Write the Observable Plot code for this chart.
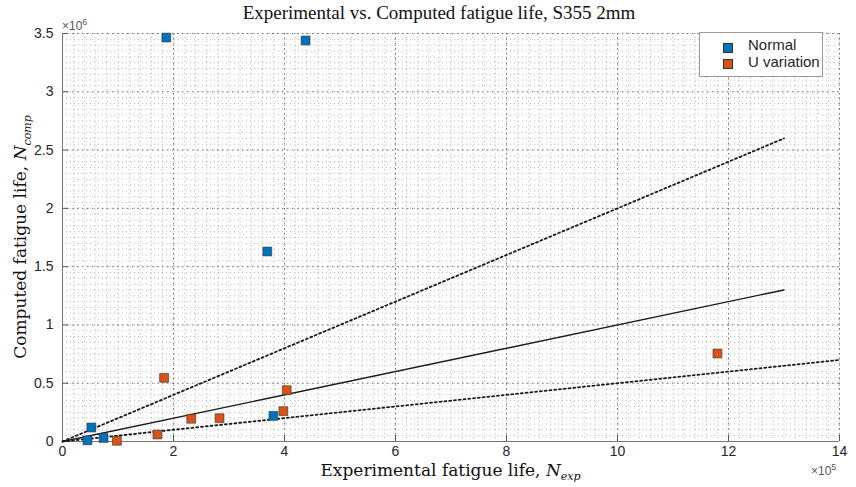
<!DOCTYPE html>
<html><head><meta charset="utf-8">
<script src="https://cdn.jsdelivr.net/npm/d3@7"></script>
<script src="https://cdn.jsdelivr.net/npm/@observablehq/plot@0.6"></script>
<style>
html,body{margin:0;padding:0;background:#fff;}
#wrap{position:relative;width:856px;height:487px;overflow:hidden;}
#wrap svg{position:absolute;left:0;top:0;}
.ov{position:absolute;white-space:nowrap;color:#262626;}
.serif{font-family:"Liberation Serif","DejaVu Serif",serif;}
.dserif{font-family:"DejaVu Serif","Liberation Serif",serif;}
.sans{font-family:"Liberation Sans",Arial,sans-serif;}
</style></head><body>
<div id="wrap"></div>
<script>
const normalX = [1.87e5, 4.38e5, 3.69e5, 3.80e5, 0.52e5, 0.45e5, 0.74e5];
const normalY = [3.465e6, 3.44e6, 1.63e6, 0.22e6, 0.12e6, 0.01e6, 0.03e6];
const uX = [1.83e5, 2.32e5, 2.83e5, 1.71e5, 0.98e5, 4.04e5, 3.98e5, 11.8e5];
const uY = [0.546e6, 0.195e6, 0.2e6, 0.06e6, 0.006e6, 0.44e6, 0.26e6, 0.755e6];
const lineSlopes = [1, 2, 0.5];
const lineXmax = [13e5, 13e5, 14e5];
const lineStyles = ["solid", "dotted", "dotted"];
const xTicks = [0,2,4,6,8,10,12,14].map(d => d*1e5);
const yTicks = [0,0.5,1,1.5,2,2.5,3,3.5].map(d => d*1e6);

const blue = "#0072BD", orange = "#D95319";
const normal = normalX.map((x,i) => ({x, y: normalY[i]}));
const uvar = uX.map((x,i) => ({x, y: uY[i]}));
const lines = lineSlopes.flatMap((s,i) => [{id:i, x:0, y:0}, {id:i, x:lineXmax[i], y:lineXmax[i]*s}]);
const xMinor = d3.range(0, 14e5 + 1, 0.2e5);
const yMinor = d3.range(0, 3.5e6 + 1, 0.05e6);

const W = 856, H = 487, mL = 62, mR = 17, mT = 33, mB = 46;
const innerW = W - mL - mR, innerH = H - mT - mB;

const plot = Plot.plot({
  width: W, height: H,
  marginLeft: mL, marginRight: mR, marginTop: mT, marginBottom: mB,
  style: {fontFamily: "Liberation Sans, Arial, sans-serif", fontSize: "14px", color: "#262626", background: "transparent"},
  x: {domain: [0, 14e5]},
  y: {domain: [0, 3.5e6]},
  marks: [
    Plot.gridX(xMinor, {stroke: "#888", strokeOpacity: 0.6, strokeDasharray: "1,3"}),
    Plot.gridY(yMinor, {stroke: "#888", strokeOpacity: 0.6, strokeDasharray: "1,3"}),
    Plot.gridX(xTicks, {stroke: "#666", strokeOpacity: 0.9, strokeDasharray: "1.5,3.5"}),
    Plot.gridY(yTicks, {stroke: "#666", strokeOpacity: 0.9, strokeDasharray: "1.5,3.5"}),
    Plot.axisX({ticks: xTicks, tickFormat: d => d/1e5, tickSize: 0, tickPadding: 5, label: null, fontSize: 14}),
    Plot.axisY({ticks: yTicks, tickFormat: d => d/1e6, tickSize: 0, tickPadding: 9, label: null, fontSize: 14}),
    Plot.tickX(xTicks, {x: d => d, stroke: "#555", insetTop: innerH - 6}),
    Plot.tickY(yTicks, {y: d => d, stroke: "#555", insetRight: innerW - 6}),
    Plot.ruleX([0], {stroke: "#777"}),
    Plot.ruleY([0], {stroke: "#777"}),
    Plot.line(lines.filter(d => lineStyles[d.id] === "solid"), {x: "x", y: "y", z: "id", stroke: "#1a1a1a", strokeWidth: 1.4}),
    Plot.line(lines.filter(d => lineStyles[d.id] === "dotted"), {x: "x", y: "y", z: "id", stroke: "#1a1a1a", strokeWidth: 1.8, strokeDasharray: "2,2.8"}),
    Plot.dot(normal, {x: "x", y: "y", symbol: "square", r: 5, fill: blue, stroke: "#333", strokeWidth: 0.6}),
    Plot.dot(uvar, {x: "x", y: "y", symbol: "square", r: 5, fill: orange, stroke: "#333", strokeWidth: 0.6})
  ]
});
const wrap = document.getElementById("wrap");
wrap.appendChild(plot);

wrap.insertAdjacentHTML("beforeend", `
<div class="ov serif" style="left:0;width:856px;top:2px;text-align:center;font-size:19px;color:#111;padding-left:22px;box-sizing:border-box;">Experimental vs. Computed fatigue life, S355 2mm</div>
<div class="ov dserif" style="left:62px;width:777px;top:464px;line-height:12px;text-align:center;font-size:17px;color:#111;">Experimental fatigue life, <i>N</i><sub style="font-size:11px;font-style:italic;line-height:0;">exp</sub></div>
<div class="ov dserif" style="left:22px;top:237px;transform:translate(-50%,-50%) rotate(-90deg);font-size:17px;color:#111;">Computed fatigue life, <i>N</i><sub style="font-size:11px;font-style:italic;">comp</sub></div>
<div class="ov sans" style="left:62px;top:20px;font-size:12px;line-height:12px;color:#555;">×10<sup style="font-size:9px;line-height:0;">6</sup></div>
<div class="ov sans" style="left:811px;top:465px;font-size:12px;line-height:12px;color:#555;">×10<sup style="font-size:9px;line-height:0;">5</sup></div>
<div class="ov sans" style="left:699px;top:32px;width:122px;height:43px;border:1px solid #999;background:#fff;font-size:15px;">
  <div style="position:absolute;left:23px;top:10px;width:8px;height:8px;background:${blue};border:0.6px solid #333;"></div>
  <div style="position:absolute;left:48px;top:3px;">Normal</div>
  <div style="position:absolute;left:23px;top:26px;width:8px;height:8px;background:${orange};border:0.6px solid #333;"></div>
  <div style="position:absolute;left:48px;top:20px;">U variation</div>
</div>
`);
</script>
</body></html>
